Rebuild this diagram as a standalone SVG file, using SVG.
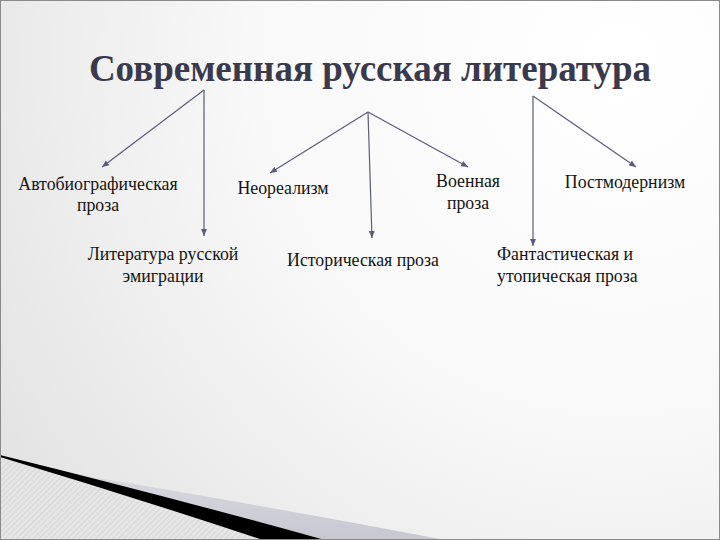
<svg xmlns="http://www.w3.org/2000/svg" width="720" height="540" viewBox="0 0 720 540">
  <defs>
    <radialGradient id="bg" cx="620" cy="60" r="820" gradientUnits="userSpaceOnUse">
      <stop offset="0" stop-color="#ffffff"/>
      <stop offset="0.45" stop-color="#f8f8f8"/>
      <stop offset="1" stop-color="#dedede"/>
    </radialGradient>
    <linearGradient id="band" x1="0" y1="0" x2="0" y2="1">
      <stop offset="0" stop-color="#d8d9df"/>
      <stop offset="1" stop-color="#c6c7d0"/>
    </linearGradient>
    <pattern id="hatch" width="4" height="4" patternUnits="userSpaceOnUse" patternTransform="rotate(45)">
      <rect width="4" height="4" fill="#e6e6e6"/>
      <line x1="0" y1="0" x2="0" y2="4" stroke="#cbcbcb" stroke-width="1.2"/>
    </pattern>
    <marker id="arr" markerWidth="8" markerHeight="8" refX="7" refY="4" orient="auto" markerUnits="userSpaceOnUse">
      <path d="M0,1 L7,4 L0,7 Z" fill="#5c5c7c"/>
    </marker>
    <style>
      .title { font-family: "Liberation Serif", "Times New Roman", serif; font-weight: bold; font-size: 37px; fill: #3a3a4c; }
      .lbl { font-family: "Liberation Serif", "Times New Roman", serif; font-size: 17.8px; fill: #151515; }
      .c { text-anchor: middle; }
      .conn line { stroke: #5c5c7c; stroke-width: 1.2; marker-end: url(#arr); }
    </style>
  </defs>

  <rect x="0" y="0" width="720" height="540" fill="url(#bg)"/>

  <!-- bottom-left swoosh decoration -->
  <path d="M0,457 Q130,496 263,540 L0,540 Z" fill="url(#hatch)"/>
  <path d="M85,476 Q250,503 445,540 L325,540 Q200,506 85,476 Z" fill="url(#band)"/>
  <path d="M0,455 Q170,497 325,540 L263,540 Q130,496 0,457 Z" fill="#000000"/>

  <rect x="0.5" y="0.5" width="719" height="539" fill="none" stroke="#8a8a8a" stroke-width="1"/>

  <g id="title">
    <text class="title c" x="370" y="81">Современная русская литература</text>
  </g>

  <g id="node-autobio">
    <text class="lbl c" x="98" y="190">Автобиографическая</text>
    <text class="lbl c" x="98" y="211">проза</text>
  </g>
  <g id="node-emigration">
    <text class="lbl c" x="163" y="260">Литература русской</text>
    <text class="lbl c" x="163" y="282">эмиграции</text>
  </g>
  <g id="node-neorealism">
    <text class="lbl c" x="283" y="194">Неореализм</text>
  </g>
  <g id="node-historical">
    <text class="lbl c" x="363" y="266">Историческая проза</text>
  </g>
  <g id="node-military">
    <text class="lbl c" x="468" y="187">Военная</text>
    <text class="lbl c" x="468" y="209">проза</text>
  </g>
  <g id="node-postmodernism">
    <text class="lbl c" x="625" y="188">Постмодернизм</text>
  </g>
  <g id="node-fantastic">
    <text class="lbl" x="497" y="260">Фантастическая и</text>
    <text class="lbl" x="497" y="282">утопическая проза</text>
  </g>

  <g id="connectors" class="conn">
    <line x1="204" y1="90" x2="102" y2="167"/>
    <line x1="204" y1="90" x2="204" y2="236"/>
    <line x1="368" y1="112" x2="270" y2="173"/>
    <line x1="368" y1="112" x2="372" y2="238"/>
    <line x1="368" y1="112" x2="468" y2="167"/>
    <line x1="533" y1="96" x2="636" y2="167"/>
    <line x1="533" y1="96" x2="533" y2="246"/>
  </g>
</svg>
